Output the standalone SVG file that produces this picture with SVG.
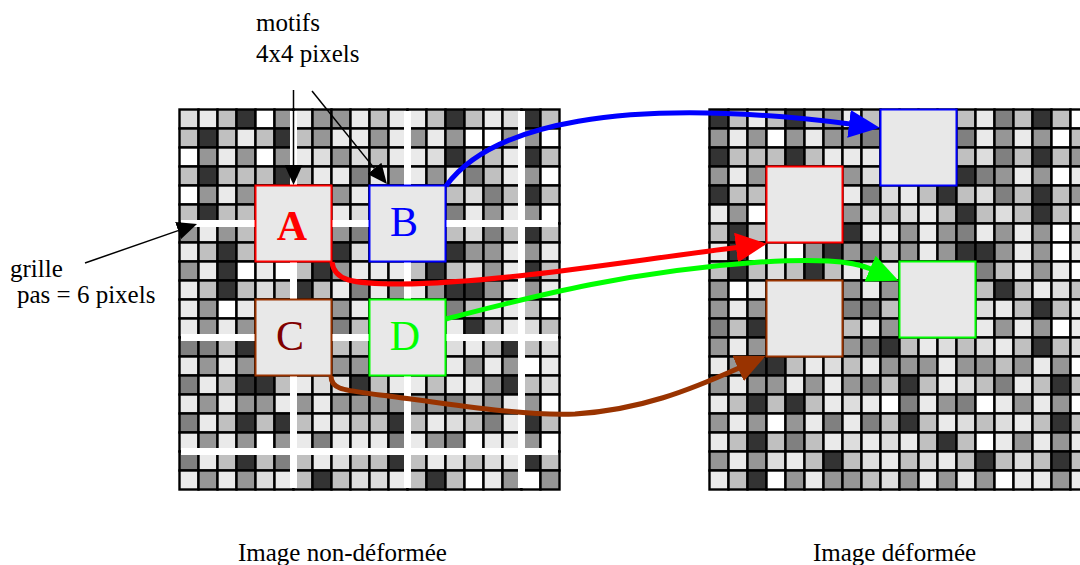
<svg xmlns="http://www.w3.org/2000/svg" width="1080" height="565" viewBox="0 0 1080 565">
<style>
.cells rect{width:19px;height:19px;stroke:#000;stroke-width:2.4px}
.w{fill:#ffffff}.v{fill:#eaeaea}.l{fill:#dddddd}.s{fill:#c0c0c0}.m{fill:#969696}.d{fill:#808080}.k{fill:#333333}
.wl{stroke:#fff;stroke-width:7;fill:none}
.box{fill:#e8e8e8;stroke-width:2}
.t{font-family:"Liberation Serif","Times New Roman",serif;fill:#000;font-size:25px}
.big{font-family:"Liberation Serif","Times New Roman",serif;font-size:42px;text-anchor:middle}
.arr{fill:none;stroke-width:5}
.blk{fill:none;stroke:#000;stroke-width:1.5}
</style>
<defs>
<marker id="mk" markerUnits="userSpaceOnUse" markerWidth="20" markerHeight="18" viewBox="0 0 20 18" refX="0" refY="9" orient="auto"><path d="M0,0L20,9L0,18z" fill="#000"/></marker>
<marker id="mb" markerUnits="userSpaceOnUse" markerWidth="31" markerHeight="28" viewBox="0 0 31 28" refX="1" refY="14" orient="auto"><path d="M0,0L31,14L0,28z" fill="#0000ff"/></marker>
<marker id="mr" markerUnits="userSpaceOnUse" markerWidth="31" markerHeight="30" viewBox="0 0 31 30" refX="1" refY="15" orient="auto"><path d="M0,0L31,15L0,30z" fill="#ff0000"/></marker>
<marker id="mg" markerUnits="userSpaceOnUse" markerWidth="31" markerHeight="28" viewBox="0 0 31 28" refX="1" refY="14" orient="auto"><path d="M0,0L31,14L0,28z" fill="#00ff00"/></marker>
<marker id="mn" markerUnits="userSpaceOnUse" markerWidth="30" markerHeight="28" viewBox="0 0 30 28" refX="1" refY="14" orient="auto"><path d="M0,0L30,14L0,28z" fill="#993300"/></marker>
</defs>
<rect width="1080" height="565" fill="#fff"/>

<g id="grid-left" class="cells" transform="translate(179.5,109.5)">
<g><rect x="0" class="l"/><rect x="19" class="v"/><rect x="38" class="s"/><rect x="57" class="k"/><rect x="76" class="w"/><rect x="95" class="m"/><rect x="114" class="v"/><rect x="133" class="m"/><rect x="152" class="m"/><rect x="171" class="v"/><rect x="190" class="s"/><rect x="209" class="v"/><rect x="228" class="v"/><rect x="247" class="s"/><rect x="266" class="k"/><rect x="285" class="s"/><rect x="304" class="v"/><rect x="323" class="l"/><rect x="342" class="k"/><rect x="361" class="s"/></g>
<g transform="translate(0,19)"><rect x="0" class="s"/><rect x="19" class="k"/><rect x="38" class="s"/><rect x="57" class="v"/><rect x="76" class="s"/><rect x="95" class="k"/><rect x="114" class="s"/><rect x="133" class="m"/><rect x="152" class="v"/><rect x="171" class="v"/><rect x="190" class="m"/><rect x="209" class="v"/><rect x="228" class="m"/><rect x="247" class="v"/><rect x="266" class="m"/><rect x="285" class="w"/><rect x="304" class="w"/><rect x="323" class="m"/><rect x="342" class="m"/><rect x="361" class="w"/></g>
<g transform="translate(0,38)"><rect x="0" class="w"/><rect x="19" class="m"/><rect x="38" class="v"/><rect x="57" class="m"/><rect x="76" class="w"/><rect x="95" class="m"/><rect x="114" class="v"/><rect x="133" class="l"/><rect x="152" class="m"/><rect x="171" class="l"/><rect x="190" class="s"/><rect x="209" class="v"/><rect x="228" class="v"/><rect x="247" class="l"/><rect x="266" class="k"/><rect x="285" class="s"/><rect x="304" class="s"/><rect x="323" class="v"/><rect x="342" class="k"/><rect x="361" class="s"/></g>
<g transform="translate(0,57)"><rect x="0" class="s"/><rect x="19" class="k"/><rect x="38" class="s"/><rect x="57" class="s"/><rect x="76" class="s"/><rect x="95" class="k"/><rect x="114" class="s"/><rect x="133" class="v"/><rect x="152" class="v"/><rect x="171" class="d"/><rect x="190" class="v"/><rect x="209" class="m"/><rect x="228" class="v"/><rect x="247" class="m"/><rect x="266" class="v"/><rect x="285" class="d"/><rect x="304" class="s"/><rect x="323" class="v"/><rect x="342" class="m"/><rect x="361" class="w"/></g>
<g transform="translate(0,76)"><rect x="0" class="w"/><rect x="19" class="m"/><rect x="38" class="v"/><rect x="57" class="m"/><rect x="76" class="v"/><rect x="95" class="v"/><rect x="114" class="v"/><rect x="133" class="v"/><rect x="152" class="m"/><rect x="171" class="v"/><rect x="190" class="v"/><rect x="209" class="v"/><rect x="228" class="v"/><rect x="247" class="v"/><rect x="266" class="s"/><rect x="285" class="l"/><rect x="304" class="d"/><rect x="323" class="s"/><rect x="342" class="k"/><rect x="361" class="s"/></g>
<g transform="translate(0,95)"><rect x="0" class="s"/><rect x="19" class="k"/><rect x="38" class="s"/><rect x="57" class="s"/><rect x="76" class="v"/><rect x="95" class="v"/><rect x="114" class="v"/><rect x="133" class="v"/><rect x="152" class="v"/><rect x="171" class="l"/><rect x="190" class="v"/><rect x="209" class="v"/><rect x="228" class="v"/><rect x="247" class="v"/><rect x="266" class="d"/><rect x="285" class="v"/><rect x="304" class="m"/><rect x="323" class="v"/><rect x="342" class="m"/><rect x="361" class="w"/></g>
<g transform="translate(0,114)"><rect x="0" class="m"/><rect x="19" class="v"/><rect x="38" class="m"/><rect x="57" class="s"/><rect x="76" class="v"/><rect x="95" class="v"/><rect x="114" class="v"/><rect x="133" class="v"/><rect x="152" class="m"/><rect x="171" class="d"/><rect x="190" class="v"/><rect x="209" class="v"/><rect x="228" class="v"/><rect x="247" class="v"/><rect x="266" class="s"/><rect x="285" class="l"/><rect x="304" class="d"/><rect x="323" class="s"/><rect x="342" class="k"/><rect x="361" class="s"/></g>
<g transform="translate(0,133)"><rect x="0" class="v"/><rect x="19" class="s"/><rect x="38" class="k"/><rect x="57" class="s"/><rect x="76" class="v"/><rect x="95" class="v"/><rect x="114" class="v"/><rect x="133" class="v"/><rect x="152" class="k"/><rect x="171" class="l"/><rect x="190" class="v"/><rect x="209" class="v"/><rect x="228" class="v"/><rect x="247" class="v"/><rect x="266" class="k"/><rect x="285" class="m"/><rect x="304" class="m"/><rect x="323" class="v"/><rect x="342" class="m"/><rect x="361" class="v"/></g>
<g transform="translate(0,152)"><rect x="0" class="m"/><rect x="19" class="v"/><rect x="38" class="k"/><rect x="57" class="w"/><rect x="76" class="v"/><rect x="95" class="w"/><rect x="114" class="s"/><rect x="133" class="k"/><rect x="152" class="m"/><rect x="171" class="v"/><rect x="190" class="v"/><rect x="209" class="v"/><rect x="228" class="s"/><rect x="247" class="k"/><rect x="266" class="s"/><rect x="285" class="l"/><rect x="304" class="m"/><rect x="323" class="v"/><rect x="342" class="k"/><rect x="361" class="s"/></g>
<g transform="translate(0,171)"><rect x="0" class="v"/><rect x="19" class="s"/><rect x="38" class="k"/><rect x="57" class="s"/><rect x="76" class="l"/><rect x="95" class="s"/><rect x="114" class="k"/><rect x="133" class="s"/><rect x="152" class="v"/><rect x="171" class="d"/><rect x="190" class="v"/><rect x="209" class="m"/><rect x="228" class="v"/><rect x="247" class="m"/><rect x="266" class="k"/><rect x="285" class="k"/><rect x="304" class="m"/><rect x="323" class="v"/><rect x="342" class="m"/><rect x="361" class="v"/></g>
<g transform="translate(0,190)"><rect x="0" class="v"/><rect x="19" class="m"/><rect x="38" class="w"/><rect x="57" class="v"/><rect x="76" class="v"/><rect x="95" class="v"/><rect x="114" class="v"/><rect x="133" class="v"/><rect x="152" class="m"/><rect x="171" class="v"/><rect x="190" class="v"/><rect x="209" class="v"/><rect x="228" class="v"/><rect x="247" class="v"/><rect x="266" class="d"/><rect x="285" class="s"/><rect x="304" class="v"/><rect x="323" class="v"/><rect x="342" class="s"/><rect x="361" class="w"/></g>
<g transform="translate(0,209)"><rect x="0" class="v"/><rect x="19" class="m"/><rect x="38" class="v"/><rect x="57" class="m"/><rect x="76" class="v"/><rect x="95" class="v"/><rect x="114" class="v"/><rect x="133" class="v"/><rect x="152" class="d"/><rect x="171" class="s"/><rect x="190" class="v"/><rect x="209" class="v"/><rect x="228" class="v"/><rect x="247" class="v"/><rect x="266" class="v"/><rect x="285" class="k"/><rect x="304" class="s"/><rect x="323" class="v"/><rect x="342" class="l"/><rect x="361" class="s"/></g>
<g transform="translate(0,228)"><rect x="0" class="d"/><rect x="19" class="d"/><rect x="38" class="s"/><rect x="57" class="k"/><rect x="76" class="v"/><rect x="95" class="v"/><rect x="114" class="v"/><rect x="133" class="v"/><rect x="152" class="s"/><rect x="171" class="s"/><rect x="190" class="v"/><rect x="209" class="v"/><rect x="228" class="v"/><rect x="247" class="v"/><rect x="266" class="l"/><rect x="285" class="v"/><rect x="304" class="s"/><rect x="323" class="k"/><rect x="342" class="s"/><rect x="361" class="l"/></g>
<g transform="translate(0,247)"><rect x="0" class="v"/><rect x="19" class="m"/><rect x="38" class="v"/><rect x="57" class="m"/><rect x="76" class="v"/><rect x="95" class="v"/><rect x="114" class="v"/><rect x="133" class="v"/><rect x="152" class="m"/><rect x="171" class="m"/><rect x="190" class="v"/><rect x="209" class="v"/><rect x="228" class="v"/><rect x="247" class="v"/><rect x="266" class="v"/><rect x="285" class="m"/><rect x="304" class="v"/><rect x="323" class="m"/><rect x="342" class="w"/><rect x="361" class="v"/></g>
<g transform="translate(0,266)"><rect x="0" class="d"/><rect x="19" class="v"/><rect x="38" class="s"/><rect x="57" class="k"/><rect x="76" class="k"/><rect x="95" class="s"/><rect x="114" class="v"/><rect x="133" class="l"/><rect x="152" class="l"/><rect x="171" class="k"/><rect x="190" class="s"/><rect x="209" class="v"/><rect x="228" class="v"/><rect x="247" class="s"/><rect x="266" class="v"/><rect x="285" class="v"/><rect x="304" class="m"/><rect x="323" class="k"/><rect x="342" class="s"/><rect x="361" class="l"/></g>
<g transform="translate(0,285)"><rect x="0" class="v"/><rect x="19" class="m"/><rect x="38" class="v"/><rect x="57" class="m"/><rect x="76" class="m"/><rect x="95" class="v"/><rect x="114" class="m"/><rect x="133" class="v"/><rect x="152" class="m"/><rect x="171" class="m"/><rect x="190" class="m"/><rect x="209" class="m"/><rect x="228" class="m"/><rect x="247" class="m"/><rect x="266" class="d"/><rect x="285" class="s"/><rect x="304" class="m"/><rect x="323" class="v"/><rect x="342" class="m"/><rect x="361" class="w"/></g>
<g transform="translate(0,304)"><rect x="0" class="d"/><rect x="19" class="v"/><rect x="38" class="s"/><rect x="57" class="k"/><rect x="76" class="s"/><rect x="95" class="k"/><rect x="114" class="s"/><rect x="133" class="v"/><rect x="152" class="l"/><rect x="171" class="s"/><rect x="190" class="s"/><rect x="209" class="k"/><rect x="228" class="s"/><rect x="247" class="v"/><rect x="266" class="l"/><rect x="285" class="s"/><rect x="304" class="d"/><rect x="323" class="v"/><rect x="342" class="k"/><rect x="361" class="s"/></g>
<g transform="translate(0,323)"><rect x="0" class="v"/><rect x="19" class="m"/><rect x="38" class="v"/><rect x="57" class="m"/><rect x="76" class="w"/><rect x="95" class="m"/><rect x="114" class="v"/><rect x="133" class="d"/><rect x="152" class="v"/><rect x="171" class="v"/><rect x="190" class="v"/><rect x="209" class="d"/><rect x="228" class="v"/><rect x="247" class="m"/><rect x="266" class="d"/><rect x="285" class="w"/><rect x="304" class="v"/><rect x="323" class="v"/><rect x="342" class="m"/><rect x="361" class="w"/></g>
<g transform="translate(0,342)"><rect x="0" class="d"/><rect x="19" class="v"/><rect x="38" class="s"/><rect x="57" class="k"/><rect x="76" class="s"/><rect x="95" class="d"/><rect x="114" class="s"/><rect x="133" class="v"/><rect x="152" class="l"/><rect x="171" class="s"/><rect x="190" class="s"/><rect x="209" class="k"/><rect x="228" class="s"/><rect x="247" class="v"/><rect x="266" class="l"/><rect x="285" class="s"/><rect x="304" class="l"/><rect x="323" class="v"/><rect x="342" class="k"/><rect x="361" class="s"/></g>
<g transform="translate(0,361)"><rect x="0" class="v"/><rect x="19" class="m"/><rect x="38" class="v"/><rect x="57" class="m"/><rect x="76" class="l"/><rect x="95" class="v"/><rect x="114" class="s"/><rect x="133" class="k"/><rect x="152" class="s"/><rect x="171" class="l"/><rect x="190" class="l"/><rect x="209" class="v"/><rect x="228" class="s"/><rect x="247" class="k"/><rect x="266" class="s"/><rect x="285" class="w"/><rect x="304" class="v"/><rect x="323" class="m"/><rect x="342" class="w"/><rect x="361" class="m"/></g>
</g>

<g id="grid-lines" class="wl">
<path d="M293.5,111V488M407.5,111V488M521.5,111V488M181,223.5H558M181,337.5H558M181,451.5H558"/>
</g>

<g id="grid-right" class="cells" transform="translate(709.5,109.5)">
<g><rect x="0" class="k"/><rect x="19" class="s"/><rect x="38" class="v"/><rect x="57" class="s"/><rect x="76" class="k"/><rect x="95" class="s"/><rect x="114" class="m"/><rect x="133" class="v"/><rect x="152" class="s"/><rect x="171" class="v"/><rect x="190" class="v"/><rect x="209" class="v"/><rect x="228" class="v"/><rect x="247" class="s"/><rect x="266" class="v"/><rect x="285" class="d"/><rect x="304" class="s"/><rect x="323" class="k"/><rect x="342" class="s"/><rect x="361" class="w"/></g>
<g transform="translate(0,19)"><rect x="0" class="m"/><rect x="19" class="v"/><rect x="38" class="m"/><rect x="57" class="w"/><rect x="76" class="m"/><rect x="95" class="v"/><rect x="114" class="m"/><rect x="133" class="m"/><rect x="152" class="d"/><rect x="171" class="v"/><rect x="190" class="v"/><rect x="209" class="v"/><rect x="228" class="v"/><rect x="247" class="d"/><rect x="266" class="v"/><rect x="285" class="m"/><rect x="304" class="v"/><rect x="323" class="m"/><rect x="342" class="w"/><rect x="361" class="s"/></g>
<g transform="translate(0,38)"><rect x="0" class="k"/><rect x="19" class="s"/><rect x="38" class="s"/><rect x="57" class="s"/><rect x="76" class="k"/><rect x="95" class="s"/><rect x="114" class="v"/><rect x="133" class="v"/><rect x="152" class="v"/><rect x="171" class="v"/><rect x="190" class="v"/><rect x="209" class="v"/><rect x="228" class="v"/><rect x="247" class="s"/><rect x="266" class="l"/><rect x="285" class="d"/><rect x="304" class="s"/><rect x="323" class="k"/><rect x="342" class="s"/><rect x="361" class="m"/></g>
<g transform="translate(0,57)"><rect x="0" class="m"/><rect x="19" class="v"/><rect x="38" class="m"/><rect x="57" class="v"/><rect x="76" class="v"/><rect x="95" class="v"/><rect x="114" class="v"/><rect x="133" class="m"/><rect x="152" class="l"/><rect x="171" class="v"/><rect x="190" class="v"/><rect x="209" class="v"/><rect x="228" class="v"/><rect x="247" class="k"/><rect x="266" class="d"/><rect x="285" class="m"/><rect x="304" class="v"/><rect x="323" class="m"/><rect x="342" class="w"/><rect x="361" class="v"/></g>
<g transform="translate(0,76)"><rect x="0" class="k"/><rect x="19" class="s"/><rect x="38" class="s"/><rect x="57" class="v"/><rect x="76" class="v"/><rect x="95" class="v"/><rect x="114" class="v"/><rect x="133" class="v"/><rect x="152" class="d"/><rect x="171" class="l"/><rect x="190" class="v"/><rect x="209" class="s"/><rect x="228" class="k"/><rect x="247" class="s"/><rect x="266" class="l"/><rect x="285" class="d"/><rect x="304" class="s"/><rect x="323" class="k"/><rect x="342" class="s"/><rect x="361" class="m"/></g>
<g transform="translate(0,95)"><rect x="0" class="v"/><rect x="19" class="m"/><rect x="38" class="w"/><rect x="57" class="v"/><rect x="76" class="v"/><rect x="95" class="v"/><rect x="114" class="v"/><rect x="133" class="m"/><rect x="152" class="l"/><rect x="171" class="s"/><rect x="190" class="l"/><rect x="209" class="v"/><rect x="228" class="s"/><rect x="247" class="k"/><rect x="266" class="s"/><rect x="285" class="l"/><rect x="304" class="s"/><rect x="323" class="k"/><rect x="342" class="s"/><rect x="361" class="w"/></g>
<g transform="translate(0,114)"><rect x="0" class="s"/><rect x="19" class="k"/><rect x="38" class="s"/><rect x="57" class="v"/><rect x="76" class="v"/><rect x="95" class="v"/><rect x="114" class="v"/><rect x="133" class="k"/><rect x="152" class="v"/><rect x="171" class="v"/><rect x="190" class="m"/><rect x="209" class="v"/><rect x="228" class="m"/><rect x="247" class="d"/><rect x="266" class="v"/><rect x="285" class="m"/><rect x="304" class="v"/><rect x="323" class="m"/><rect x="342" class="w"/><rect x="361" class="s"/></g>
<g transform="translate(0,133)"><rect x="0" class="v"/><rect x="19" class="k"/><rect x="38" class="w"/><rect x="57" class="v"/><rect x="76" class="w"/><rect x="95" class="m"/><rect x="114" class="k"/><rect x="133" class="m"/><rect x="152" class="d"/><rect x="171" class="s"/><rect x="190" class="m"/><rect x="209" class="v"/><rect x="228" class="m"/><rect x="247" class="k"/><rect x="266" class="k"/><rect x="285" class="m"/><rect x="304" class="v"/><rect x="323" class="m"/><rect x="342" class="w"/><rect x="361" class="v"/></g>
<g transform="translate(0,152)"><rect x="0" class="s"/><rect x="19" class="k"/><rect x="38" class="s"/><rect x="57" class="l"/><rect x="76" class="s"/><rect x="95" class="k"/><rect x="114" class="s"/><rect x="133" class="v"/><rect x="152" class="l"/><rect x="171" class="v"/><rect x="190" class="v"/><rect x="209" class="v"/><rect x="228" class="v"/><rect x="247" class="v"/><rect x="266" class="d"/><rect x="285" class="s"/><rect x="304" class="v"/><rect x="323" class="m"/><rect x="342" class="v"/><rect x="361" class="w"/></g>
<g transform="translate(0,171)"><rect x="0" class="m"/><rect x="19" class="w"/><rect x="38" class="v"/><rect x="57" class="v"/><rect x="76" class="v"/><rect x="95" class="v"/><rect x="114" class="v"/><rect x="133" class="m"/><rect x="152" class="v"/><rect x="171" class="m"/><rect x="190" class="v"/><rect x="209" class="v"/><rect x="228" class="v"/><rect x="247" class="v"/><rect x="266" class="s"/><rect x="285" class="k"/><rect x="304" class="s"/><rect x="323" class="v"/><rect x="342" class="l"/><rect x="361" class="s"/></g>
<g transform="translate(0,190)"><rect x="0" class="m"/><rect x="19" class="v"/><rect x="38" class="m"/><rect x="57" class="v"/><rect x="76" class="v"/><rect x="95" class="v"/><rect x="114" class="v"/><rect x="133" class="d"/><rect x="152" class="d"/><rect x="171" class="s"/><rect x="190" class="v"/><rect x="209" class="v"/><rect x="228" class="v"/><rect x="247" class="v"/><rect x="266" class="l"/><rect x="285" class="v"/><rect x="304" class="s"/><rect x="323" class="k"/><rect x="342" class="s"/><rect x="361" class="v"/></g>
<g transform="translate(0,209)"><rect x="0" class="d"/><rect x="19" class="s"/><rect x="38" class="k"/><rect x="57" class="v"/><rect x="76" class="v"/><rect x="95" class="v"/><rect x="114" class="v"/><rect x="133" class="s"/><rect x="152" class="v"/><rect x="171" class="m"/><rect x="190" class="v"/><rect x="209" class="v"/><rect x="228" class="v"/><rect x="247" class="v"/><rect x="266" class="v"/><rect x="285" class="m"/><rect x="304" class="v"/><rect x="323" class="m"/><rect x="342" class="w"/><rect x="361" class="v"/></g>
<g transform="translate(0,228)"><rect x="0" class="m"/><rect x="19" class="v"/><rect x="38" class="m"/><rect x="57" class="v"/><rect x="76" class="v"/><rect x="95" class="v"/><rect x="114" class="v"/><rect x="133" class="m"/><rect x="152" class="d"/><rect x="171" class="k"/><rect x="190" class="s"/><rect x="209" class="v"/><rect x="228" class="l"/><rect x="247" class="s"/><rect x="266" class="l"/><rect x="285" class="v"/><rect x="304" class="s"/><rect x="323" class="k"/><rect x="342" class="s"/><rect x="361" class="l"/></g>
<g transform="translate(0,247)"><rect x="0" class="v"/><rect x="19" class="m"/><rect x="38" class="k"/><rect x="57" class="k"/><rect x="76" class="s"/><rect x="95" class="v"/><rect x="114" class="l"/><rect x="133" class="s"/><rect x="152" class="v"/><rect x="171" class="m"/><rect x="190" class="m"/><rect x="209" class="m"/><rect x="228" class="v"/><rect x="247" class="m"/><rect x="266" class="m"/><rect x="285" class="s"/><rect x="304" class="m"/><rect x="323" class="v"/><rect x="342" class="m"/><rect x="361" class="w"/></g>
<g transform="translate(0,266)"><rect x="0" class="m"/><rect x="19" class="v"/><rect x="38" class="m"/><rect x="57" class="m"/><rect x="76" class="v"/><rect x="95" class="m"/><rect x="114" class="v"/><rect x="133" class="m"/><rect x="152" class="d"/><rect x="171" class="s"/><rect x="190" class="k"/><rect x="209" class="s"/><rect x="228" class="v"/><rect x="247" class="l"/><rect x="266" class="s"/><rect x="285" class="d"/><rect x="304" class="v"/><rect x="323" class="s"/><rect x="342" class="k"/><rect x="361" class="s"/></g>
<g transform="translate(0,285)"><rect x="0" class="v"/><rect x="19" class="s"/><rect x="38" class="k"/><rect x="57" class="s"/><rect x="76" class="k"/><rect x="95" class="s"/><rect x="114" class="v"/><rect x="133" class="l"/><rect x="152" class="v"/><rect x="171" class="w"/><rect x="190" class="d"/><rect x="209" class="v"/><rect x="228" class="m"/><rect x="247" class="d"/><rect x="266" class="w"/><rect x="285" class="v"/><rect x="304" class="m"/><rect x="323" class="v"/><rect x="342" class="m"/><rect x="361" class="w"/></g>
<g transform="translate(0,304)"><rect x="0" class="m"/><rect x="19" class="v"/><rect x="38" class="m"/><rect x="57" class="w"/><rect x="76" class="m"/><rect x="95" class="v"/><rect x="114" class="d"/><rect x="133" class="v"/><rect x="152" class="d"/><rect x="171" class="s"/><rect x="190" class="k"/><rect x="209" class="s"/><rect x="228" class="v"/><rect x="247" class="l"/><rect x="266" class="s"/><rect x="285" class="l"/><rect x="304" class="v"/><rect x="323" class="s"/><rect x="342" class="k"/><rect x="361" class="s"/></g>
<g transform="translate(0,323)"><rect x="0" class="v"/><rect x="19" class="s"/><rect x="38" class="k"/><rect x="57" class="s"/><rect x="76" class="d"/><rect x="95" class="s"/><rect x="114" class="v"/><rect x="133" class="l"/><rect x="152" class="v"/><rect x="171" class="l"/><rect x="190" class="v"/><rect x="209" class="s"/><rect x="228" class="k"/><rect x="247" class="s"/><rect x="266" class="w"/><rect x="285" class="v"/><rect x="304" class="m"/><rect x="323" class="v"/><rect x="342" class="m"/><rect x="361" class="v"/></g>
<g transform="translate(0,342)"><rect x="0" class="m"/><rect x="19" class="v"/><rect x="38" class="m"/><rect x="57" class="l"/><rect x="76" class="v"/><rect x="95" class="s"/><rect x="114" class="k"/><rect x="133" class="s"/><rect x="152" class="l"/><rect x="171" class="v"/><rect x="190" class="s"/><rect x="209" class="l"/><rect x="228" class="v"/><rect x="247" class="s"/><rect x="266" class="k"/><rect x="285" class="s"/><rect x="304" class="l"/><rect x="323" class="s"/><rect x="342" class="k"/><rect x="361" class="s"/></g>
<g transform="translate(0,361)"><rect x="0" class="v"/><rect x="19" class="s"/><rect x="38" class="k"/><rect x="57" class="w"/><rect x="76" class="m"/><rect x="95" class="v"/><rect x="114" class="m"/><rect x="133" class="m"/><rect x="152" class="s"/><rect x="171" class="l"/><rect x="190" class="m"/><rect x="209" class="v"/><rect x="228" class="m"/><rect x="247" class="v"/><rect x="266" class="m"/><rect x="285" class="w"/><rect x="304" class="v"/><rect x="323" class="v"/><rect x="342" class="m"/><rect x="361" class="v"/></g>
</g>

<g id="node-A"><rect class="box" x="255.5" y="185.5" width="76" height="76" stroke="#ff0000"/><text class="big" x="292" y="240" fill="#ff0000" font-weight="bold" font-size="40">A</text></g>
<g id="node-B"><rect class="box" x="369.5" y="185.5" width="76" height="76" stroke="#0000ff"/><text class="big" x="404" y="236" fill="#0000ff">B</text></g>
<g id="node-C"><rect class="box" x="255.5" y="299.5" width="76" height="76" stroke="#993300"/><text class="big" x="290" y="350" fill="#800000">C</text></g>
<g id="node-D"><rect class="box" x="369.5" y="299.5" width="76" height="76" stroke="#00ff00"/><text class="big" x="405" y="350" fill="#00ff00">D</text></g>
<g id="node-B2"><rect class="box" x="880.5" y="109.5" width="76" height="76" stroke="#0000ff"/></g>
<g id="node-A2"><rect class="box" x="766.5" y="166.5" width="76" height="76" stroke="#ff0000"/></g>
<g id="node-D2"><rect class="box" x="899.5" y="261.5" width="76" height="76" stroke="#00ff00"/></g>
<g id="node-C2"><rect class="box" x="766.5" y="280.5" width="76" height="76" stroke="#993300"/></g>

<g id="label-motifs"><text class="t" x="256" y="31" font-size="26">motifs</text><text class="t" x="256" y="62" font-size="26">4x4 pixels</text></g>
<g id="label-grille"><text class="t" x="10" y="277">grille</text><text class="t" x="17" y="303">pas = 6 pixels</text></g>
<g id="label-left"><text class="t" x="238" y="561" font-size="26.5">Image non-déformée</text></g>
<g id="label-right"><text class="t" x="813" y="561" font-size="26.5">Image déformée</text></g>

<g id="connectors">
<path class="blk" d="M293.5,90V165" marker-end="url(#mk)"/>
<path class="blk" d="M312,91L374.4,168.4" marker-end="url(#mk)"/>
<path class="blk" d="M85,263L178.1,230.6" marker-end="url(#mk)"/>
<path class="arr" stroke="#0000ff" d="M446,186C490,125 620,95 850,124" marker-end="url(#mb)"/>
<path class="arr" stroke="#ff0000" d="M332,262C334,280 350,284 400,284C500,283 620,262 737,247.5" marker-end="url(#mr)"/>
<path class="arr" stroke="#00ff00" d="M446,319C520,300 620,272 760,262C815,259 850,260 871,269" marker-end="url(#mg)"/>
<path class="arr" stroke="#993300" d="M331,376C331,390 345,390 380,395C460,405 520,416 575,414C640,410 690,390 739,368" marker-end="url(#mn)"/>
</g>
</svg>
